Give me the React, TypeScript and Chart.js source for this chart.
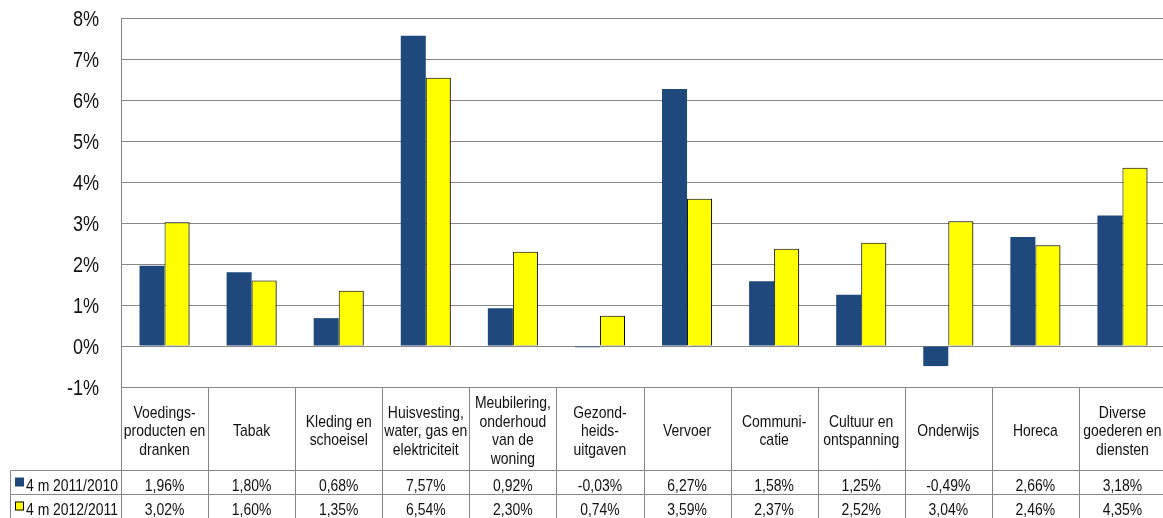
import React, { useEffect, useRef } from "react";
import { Chart, registerables } from "chart.js";

Chart.register(...registerables);

const categories: string[][] = [
  ["Voedings-", "producten en", "dranken"],
  ["Tabak"],
  ["Kleding en", "schoeisel"],
  ["Huisvesting,", "water, gas en", "elektriciteit"],
  ["Meubilering,", "onderhoud", "van de", "woning"],
  ["Gezond-", "heids-", "uitgaven"],
  ["Vervoer"],
  ["Communi-", "catie"],
  ["Cultuur en", "ontspanning"],
  ["Onderwijs"],
  ["Horeca"],
  ["Diverse", "goederen en", "diensten"],
];

const series1Label = "4 m 2011/2010";
const series2Label = "4 m 2012/2011";
const series1 = [1.96, 1.8, 0.68, 7.57, 0.92, -0.03, 6.27, 1.58, 1.25, -0.49, 2.66, 3.18];
const series2 = [3.02, 1.6, 1.35, 6.54, 2.3, 0.74, 3.59, 2.37, 2.52, 3.04, 2.46, 4.35];

const yMin = -1;
const yMax = 8;

const NAVY = "#1F497D";
const YELLOW = "#FFFF00";
const GRID = "#878787";
const FONT = '"Liberation Sans", Arial, sans-serif';
const NARROW = 0.82;

const fmt = (v: number) => v.toFixed(2).replace(".", ",") + "%";

function narrowText(ctx: CanvasRenderingContext2D, text: string, x: number, y: number, size: number, align: CanvasTextAlign) {
  ctx.save();
  ctx.translate(x, y);
  ctx.scale(NARROW, 1);
  ctx.font = `${size}px ${FONT}`;
  ctx.textAlign = align;
  ctx.textBaseline = "alphabetic";
  ctx.fillText(text, 0, 0);
  ctx.restore();
}

const shadowPlugin = {
  id: "barShadow",
  beforeDatasetDraw(chart: any, args: any) {
    const ctx = chart.ctx;
    ctx.save();
    if (args.index === 1) {
      ctx.shadowColor = "rgba(0,0,0,0.45)";
      ctx.shadowOffsetX = 1.5;
      ctx.shadowOffsetY = 1;
      ctx.shadowBlur = 1.5;
    }
  },
  afterDatasetDraw(chart: any) {
    chart.ctx.restore();
  },
};

const tablePlugin = {
  id: "dataTable",
  afterDraw(chart: any) {
    const { ctx, chartArea } = chart;
    const yScale = chart.scales.y;
    const left = chartArea.left;
    const right = chartArea.right;
    const n = categories.length;
    const step = (right - left) / n;
    const top = Math.round(chartArea.bottom) + 0.5;
    const headerBottom = top + 83;
    const row1Bottom = headerBottom + 24;
    const bottom = row1Bottom + 24;
    const legendLeft = 10.5;

    ctx.save();
    ctx.strokeStyle = GRID;
    ctx.lineWidth = 1;
    ctx.beginPath();
    for (let i = 0; i <= n; i++) {
      const x = Math.round(left + i * step) + 0.5;
      ctx.moveTo(x, top);
      ctx.lineTo(x, bottom);
    }
    ctx.moveTo(left, top);
    ctx.lineTo(right, top);
    ctx.moveTo(legendLeft, headerBottom);
    ctx.lineTo(right, headerBottom);
    ctx.moveTo(legendLeft, row1Bottom);
    ctx.lineTo(right, row1Bottom);
    ctx.moveTo(legendLeft, headerBottom);
    ctx.lineTo(legendLeft, bottom);
    ctx.stroke();

    ctx.fillStyle = "#111";
    yScale.ticks.forEach((t: any) => {
      const y = yScale.getPixelForValue(t.value);
      narrowText(ctx, `${t.value}%`, left - 22, y + 7.8, 22, "right");
    });

    const lineH = 18.5;
    const headerCenter = (top + headerBottom) / 2 + 1;
    categories.forEach((lines, i) => {
      const cx = left + (i + 0.5) * step;
      lines.forEach((ln, j) => {
        const y = headerCenter + 6 + (j - (lines.length - 1) / 2) * lineH;
        narrowText(ctx, ln, cx, y, 17, "center");
      });
      narrowText(ctx, fmt(series1[i]), cx, headerBottom + 20, 17, "center");
      narrowText(ctx, fmt(series2[i]), cx, row1Bottom + 20.5, 17, "center");
    });

    ctx.fillStyle = NAVY;
    ctx.fillRect(15, headerBottom + 7, 9, 9);
    ctx.fillStyle = "#111";
    narrowText(ctx, series1Label, 26, headerBottom + 20, 17, "left");
    ctx.fillStyle = YELLOW;
    ctx.fillRect(15, row1Bottom + 7, 9, 9);
    ctx.strokeStyle = "#000";
    ctx.strokeRect(15.5, row1Bottom + 7.5, 8, 8);
    ctx.fillStyle = "#111";
    narrowText(ctx, series2Label, 26, row1Bottom + 20.5, 17, "left");
    ctx.restore();
  },
};

export default function App() {
  const ref = useRef<HTMLCanvasElement | null>(null);

  useEffect(() => {
    document.body.style.margin = "0";
    const canvas = ref.current;
    if (!canvas) return;
    const chart = new Chart(canvas, {
      type: "bar",
      data: {
        labels: categories.map((c) => c.join(" ")),
        datasets: [
          {
            label: series1Label,
            data: series1,
            backgroundColor: NAVY,
            borderWidth: 0,
          },
          {
            label: series2Label,
            data: series2,
            backgroundColor: YELLOW,
            borderColor: "#000",
            borderWidth: 1,
          },
        ],
      },
      options: {
        responsive: false,
        animation: false,
        devicePixelRatio: 1,
        layout: { padding: { top: 18, bottom: 131, left: 0, right: 0 } },
        datasets: {
          bar: { categoryPercentage: 50 / 87, barPercentage: 1 },
        },
        plugins: {
          legend: { display: false },
          tooltip: { enabled: false },
          title: { display: false },
        },
        scales: {
          x: {
            display: false,
            grid: { display: false },
          },
          y: {
            min: yMin,
            max: yMax,
            afterFit: (s: any) => {
              s.width = 121;
              s.paddingTop = 0;
              s.paddingBottom = 0;
            },
            ticks: {
              stepSize: 1,
              display: false,
            },
            grid: { color: GRID, drawTicks: false, lineWidth: 1 },
            border: { display: true, color: GRID },
          },
        },
      },
      plugins: [shadowPlugin, tablePlugin],
    });
    return () => chart.destroy();
  }, []);

  return (
    <div style={{ width: 1163, height: 518, overflow: "hidden", position: "relative", background: "#fff" }}>
      <canvas ref={ref} width={1166} height={518} style={{ display: "block" }} />
    </div>
  );
}
